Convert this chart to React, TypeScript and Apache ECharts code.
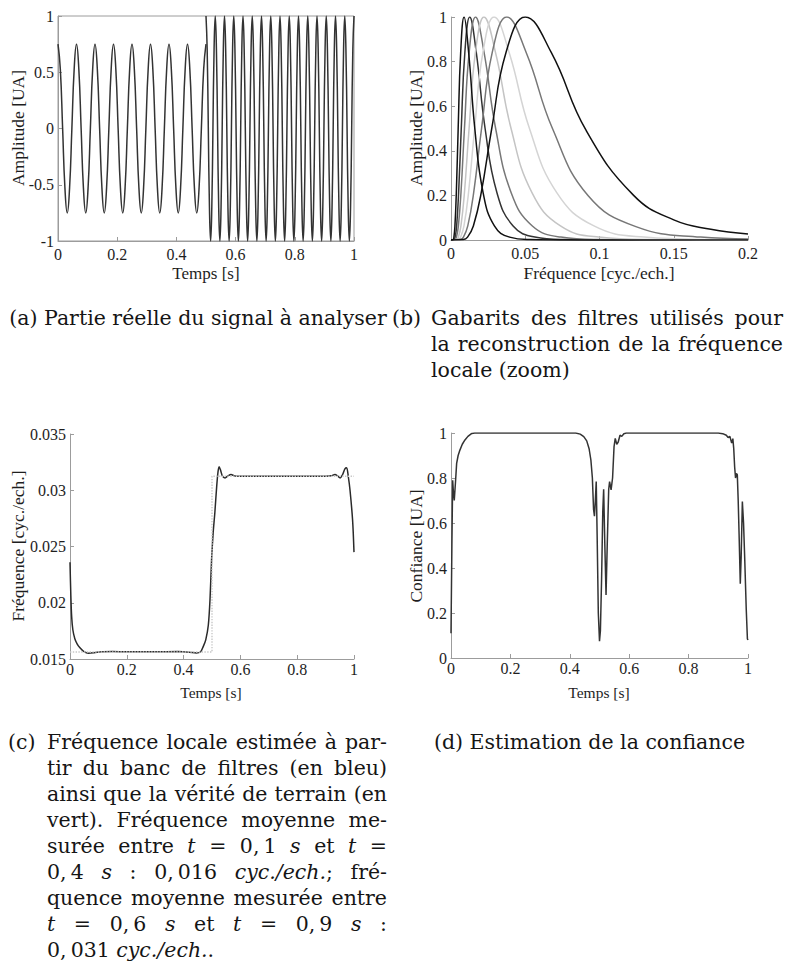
import React, { useEffect, useRef } from "react";
import * as echarts from "echarts";

// ---------- tick labels ----------
const timeTicks = [0, 0.2, 0.4, 0.6, 0.8, 1];
const amplitudeTicks = [-1, -0.5, 0, 0.5, 1];
const freqTicks = [0, 0.05, 0.1, 0.15, 0.2];
const gainTicks = [0, 0.2, 0.4, 0.6, 0.8, 1];
const localFreqTicks = [0.015, 0.02, 0.025, 0.03, 0.035];
const confTicks = [0, 0.2, 0.4, 0.6, 0.8, 1];

// ---------- (a) real part of the signal ----------
const signalLowStart = 0;
const signalLowStep = 0.0078125;
const signalLow = [
  0.75, 0.53, 0, -0.53, -0.75, -0.53, 0, 0.53,
  0.75, 0.53, 0, -0.53, -0.75, -0.53, 0, 0.53,
  0.75, 0.53, 0, -0.53, -0.75, -0.53, 0, 0.53,
  0.75, 0.53, 0, -0.53, -0.75, -0.53, 0, 0.53,
  0.75, 0.53, 0, -0.53, -0.75, -0.53, 0, 0.53,
  0.75, 0.53, 0, -0.53, -0.75, -0.53, 0, 0.53,
  0.75, 0.53, 0, -0.53, -0.75, -0.53, 0, 0.53,
  0.75, 0.53, 0, -0.53, -0.75, -0.53, 0, 0.53,
  0.75,
];
const signalHighStart = 0.5;
const signalHighStep = 0.00390625;
const signalHigh = [
  1, 0.71, 0, -0.71, -1, -0.71, 0, 0.71,
  1, 0.71, 0, -0.71, -1, -0.71, 0, 0.71,
  1, 0.71, 0, -0.71, -1, -0.71, 0, 0.71,
  1, 0.71, 0, -0.71, -1, -0.71, 0, 0.71,
  1, 0.71, 0, -0.71, -1, -0.71, 0, 0.71,
  1, 0.71, 0, -0.71, -1, -0.71, 0, 0.71,
  1, 0.71, 0, -0.71, -1, -0.71, 0, 0.71,
  1, 0.71, 0, -0.71, -1, -0.71, 0, 0.71,
  1, 0.71, 0, -0.71, -1, -0.71, 0, 0.71,
  1, 0.71, 0, -0.71, -1, -0.71, 0, 0.71,
  1, 0.71, 0, -0.71, -1, -0.71, 0, 0.71,
  1, 0.71, 0, -0.71, -1, -0.71, 0, 0.71,
  1, 0.71, 0, -0.71, -1, -0.71, 0, 0.71,
  1, 0.71, 0, -0.71, -1, -0.71, 0, 0.71,
  1, 0.71, 0, -0.71, -1, -0.71, 0, 0.71,
  1, 0.71, 0, -0.71, -1, -0.71, 0, 0.71,
  1,
];

// ---------- (b) filter templates [frequency, gain] ----------
const filter1 = [[0, 0], [0.00145, 0.002], [0.00196, 0.013], [0.00265, 0.063], [0.00358, 0.211], [0.00483, 0.5], [0.00652, 0.841], [0.0088, 1], [0.01188, 0.841], [0.01603, 0.5], [0.02164, 0.211], [0.02922, 0.063], [0.03944, 0.013], [0.05324, 0.002], [0.07942, 0], [0.2, 0]];
const filter2 = [[0, 0], [0.00208, 0.002], [0.00281, 0.013], [0.0038, 0.063], [0.00512, 0.211], [0.00691, 0.5], [0.00933, 0.841], [0.0126, 1], [0.01701, 0.841], [0.02296, 0.5], [0.03099, 0.211], [0.04183, 0.063], [0.05647, 0.013], [0.07622, 0.002], [0.11372, 0], [0.2, 0]];
const filter3 = [[0, 0], [0.00273, 0.002], [0.00368, 0.013], [0.00497, 0.063], [0.00671, 0.211], [0.00906, 0.5], [0.01222, 0.841], [0.0165, 1], [0.02227, 0.841], [0.03006, 0.5], [0.04058, 0.211], [0.05478, 0.063], [0.07395, 0.013], [0.09982, 0.002], [0.14891, 0], [0.2, 0]];
const filter4 = [[0, 0], [0.00367, 0.002], [0.00495, 0.013], [0.00669, 0.063], [0.00903, 0.211], [0.01218, 0.5], [0.01645, 0.841], [0.0222, 1], [0.02997, 0.841], [0.04045, 0.5], [0.0546, 0.211], [0.07371, 0.063], [0.09949, 0.013], [0.1343, 0.002], [0.2, 0]];
const filter5 = [[0, 0], [0.00479, 0.002], [0.00647, 0.013], [0.00873, 0.063], [0.01179, 0.211], [0.01592, 0.5], [0.02148, 0.841], [0.029, 1], [0.03915, 0.841], [0.05284, 0.5], [0.07133, 0.211], [0.09628, 0.063], [0.12997, 0.013], [0.17544, 0.002], [0.2, 0.001]];
const filter6 = [[0, 0], [0.0062, 0.002], [0.00837, 0.013], [0.0113, 0.063], [0.01525, 0.211], [0.02058, 0.5], [0.02778, 0.841], [0.0375, 1], [0.05062, 0.841], [0.06833, 0.5], [0.09224, 0.2], [0.1245, 0.06], [0.16806, 0.013], [0.2, 0.005]];
const filter7 = [[0, 0], [0.00827, 0.002], [0.01116, 0.013], [0.01506, 0.063], [0.02033, 0.211], [0.02744, 0.5], [0.03704, 0.841], [0.05, 1], [0.0675, 0.841], [0.0911, 0.49], [0.12298, 0.2], [0.15, 0.09], [0.175, 0.048], [0.2, 0.027]];
const filterCurves = [filter1, filter2, filter3, filter4, filter5, filter6, filter7];
const filterColors = ["#111111", "#333333", "#777777", "#c4c4c4", "#d4d4d4", "#777777", "#111111"];

// ---------- (c) local frequency [t, cyc./ech.] ----------
const estimatedFreq = [
  [0, 0.0236], [0.003, 0.0206], [0.006, 0.0187], [0.01, 0.0176], [0.017, 0.0168], [0.025, 0.01635],
  [0.035, 0.016], [0.048, 0.01568], [0.065, 0.01552], [0.085, 0.01556], [0.11, 0.01564], [0.15, 0.01566],
  [0.2, 0.01564], [0.3, 0.01564], [0.38, 0.01566], [0.42, 0.01561], [0.445, 0.01554], [0.46, 0.01565],
  [0.469, 0.0161], [0.478, 0.0167], [0.487, 0.018], [0.493, 0.0203], [0.4985, 0.0238], [0.504, 0.0262],
  [0.51, 0.028], [0.5164, 0.0303], [0.521, 0.0316], [0.525, 0.0321], [0.53, 0.0318], [0.537, 0.03125],
  [0.546, 0.0311], [0.555, 0.03125], [0.567, 0.0314], [0.58, 0.03127], [0.6, 0.03125], [0.7, 0.03125],
  [0.8, 0.03125], [0.9, 0.03125], [0.92, 0.03128], [0.933, 0.0314], [0.943, 0.03125], [0.951, 0.0311],
  [0.96, 0.0314], [0.968, 0.0319], [0.974, 0.0320], [0.98, 0.0312], [0.986, 0.0300], [0.995, 0.02735],
  [1, 0.0245],
];
const trueFreq = [[0, 0.015625], [0.5, 0.015625], [0.5, 0.03125], [1, 0.03125]];

// ---------- (d) confidence [t, UA] ----------
const confidence = [
  [0, 0.11], [0.003, 0.5], [0.0056, 0.79], [0.008, 0.74], [0.011, 0.7], [0.015, 0.78], [0.019, 0.865],
  [0.024, 0.9], [0.03, 0.924], [0.038, 0.95], [0.047, 0.969], [0.057, 0.985], [0.07, 0.998], [0.08, 1],
  [0.42, 1], [0.435, 0.995], [0.447, 0.984], [0.457, 0.965], [0.465, 0.93], [0.471, 0.88], [0.476, 0.8],
  [0.48, 0.66], [0.483, 0.63], [0.486, 0.7], [0.489, 0.784], [0.492, 0.55], [0.496, 0.2], [0.5, 0.075],
  [0.503, 0.12], [0.507, 0.35], [0.511, 0.65], [0.514, 0.75], [0.518, 0.5], [0.522, 0.28], [0.526, 0.5],
  [0.531, 0.75], [0.534, 0.784], [0.539, 0.747], [0.544, 0.8], [0.549, 0.94], [0.553, 0.976], [0.558, 0.95],
  [0.563, 0.96], [0.569, 0.99], [0.575, 0.985], [0.582, 0.997], [0.59, 1], [0.9, 1], [0.915, 0.997],
  [0.927, 0.99], [0.933, 0.98], [0.939, 0.985], [0.945, 0.955], [0.949, 0.975], [0.952, 0.93], [0.955, 0.85],
  [0.958, 0.8], [0.961, 0.82], [0.964, 0.815], [0.967, 0.7], [0.97, 0.55], [0.974, 0.33], [0.977, 0.45],
  [0.981, 0.695], [0.985, 0.6], [0.989, 0.44], [0.994, 0.22], [0.998, 0.085], [1, 0.08],
];

// ---------- captions ----------
const captionA = "(a) Partie réelle du signal à analyser";
const captionBLabel = "(b)";
const captionB = ["Gabarits des filtres utilisés pour", "la reconstruction de la fréquence", "locale (zoom)"];
const captionCLabel = "(c)";
const captionC = [
  "Fréquence locale estimée à par-",
  "tir du banc de filtres (en bleu)",
  "ainsi que la vérité de terrain (en",
  "vert). Fréquence moyenne me-",
  "surée entre _t_ = 0,\u20091 _s_ et _t_ =",
  "0,\u20094 _s_ : 0,\u2009016 _cyc./ech._; fré-",
  "quence moyenne mesurée entre",
  "_t_ = 0,\u20096 _s_ et _t_ = 0,\u20099 _s_ :",
  "0,\u2009031 _cyc./ech._.",
];
const captionD = "(d) Estimation de la confiance";

// ---------- styles ----------
const AXIS_COLOR = "#9c9c9c";
const TEXT_COLOR = "#1e1e1e";
const TICK_FONT = "Liberation Serif";
const CAP_FONT = "DejaVu Serif";
const CAP_SIZE = 20.5;

function axisBase(ticks: number[], gridIndex: number, margin: number) {
  const interval = +(ticks[1] - ticks[0]).toFixed(6);
  return {
    type: "value",
    gridIndex,
    min: ticks[0],
    max: ticks[ticks.length - 1],
    interval,
    axisLine: { show: true, onZero: false, lineStyle: { color: AXIS_COLOR, width: 1 } },
    axisTick: { show: true, inside: true, length: 4, lineStyle: { color: AXIS_COLOR, width: 1 } },
    splitLine: { show: false },
    axisLabel: { fontFamily: TICK_FONT, fontSize: 16, color: TEXT_COLOR, margin },
  };
}

function axisTitle(text: string, x: number, y: number, size: number, vertical: boolean) {
  return {
    type: "text",
    x,
    y,
    rotation: vertical ? Math.PI / 2 : 0,
    silent: true,
    style: {
      text,
      fontFamily: TICK_FONT,
      fontSize: size,
      fill: TEXT_COLOR,
      align: "center",
      verticalAlign: "middle",
    },
  };
}

type Part = { s: string; it: boolean };

function buildCaptions(): any[] {
  const canvas = document.createElement("canvas");
  const ctx = canvas.getContext("2d")!;
  const measure = (s: string, it: boolean) => {
    ctx.font = `${it ? "italic " : ""}${CAP_SIZE}px "${CAP_FONT}"`;
    return ctx.measureText(s).width;
  };
  const out: any[] = [];
  const textEl = (x: number, y: number, s: string, it: boolean) => {
    const style: any = {
      text: s,
      fontFamily: CAP_FONT,
      fontSize: CAP_SIZE,
      fill: "#151515",
      align: "left",
      verticalAlign: "middle",
    };
    if (it) style.fontStyle = "italic";
    return { type: "text", x, y, silent: true, style };
  };
  const tokenize = (line: string): Part[][] =>
    line.split(" ").map((tok) =>
      tok
        .split("_")
        .map((s, i) => ({ s, it: i % 2 === 1 }))
        .filter((p) => p.s.length > 0)
    );
  const layout = (line: string, x0: number, x1: number, y: number, mode: "justify" | "left" | "center") => {
    const tokens = tokenize(line);
    const widths = tokens.map((parts) => parts.reduce((a, p) => a + measure(p.s, p.it), 0));
    const total = widths.reduce((a, b) => a + b, 0);
    const space = measure(" ", false);
    let gap = space;
    let x = x0;
    if (mode === "justify" && tokens.length > 1) gap = (x1 - x0 - total) / (tokens.length - 1);
    if (mode === "center") x = (x0 + x1) / 2 - (total + space * (tokens.length - 1)) / 2;
    tokens.forEach((parts, k) => {
      let px = x;
      parts.forEach((p) => {
        out.push(textEl(px, y, p.s, p.it));
        px += measure(p.s, p.it);
      });
      x += widths[k] + gap;
    });
  };

  layout(captionA, 6, 390, 318, "center");

  out.push(textEl(392, 318, captionBLabel, false));
  captionB.forEach((line, i) =>
    layout(line, 431, 783, 318 + 26 * i, i === captionB.length - 1 ? "left" : "justify")
  );

  out.push(textEl(8, 742, captionCLabel, false));
  captionC.forEach((line, i) =>
    layout(line, 47, 387, 742 + 26 * i, i === captionC.length - 1 ? "left" : "justify")
  );

  layout(captionD, 393, 786, 742, "center");
  return out;
}

function buildOption(): any {
  const lowData = signalLow.map((v, i) => [signalLowStart + i * signalLowStep, v]);
  const highData = signalHigh.map((v, i) => [signalHighStart + i * signalHighStep, v]);

  const grids = [
    { left: 58, top: 16, width: 296, height: 225, show: true, borderColor: AXIS_COLOR, borderWidth: 1, backgroundColor: "transparent" },
    { left: 451, top: 17, width: 297, height: 223 },
    { left: 70, top: 434, width: 284, height: 225 },
    { left: 451, top: 433, width: 297, height: 225 },
  ];

  const xAxis = [
    axisBase(timeTicks, 0, 5),
    axisBase(freqTicks, 1, 5),
    axisBase(timeTicks, 2, 2),
    axisBase(timeTicks, 3, 2),
  ];
  const yAxis = [
    axisBase(amplitudeTicks, 0, 4),
    axisBase(gainTicks, 1, 4),
    axisBase(localFreqTicks, 2, 4),
    axisBase(confTicks, 3, 4),
  ];

  const lineBase = (data: any, xi: number, color: string, width: number, smooth: any) => ({
    type: "line",
    data,
    xAxisIndex: xi,
    yAxisIndex: xi,
    showSymbol: false,
    symbol: "none",
    smooth,
    lineStyle: { color, width },
    emphasis: { disabled: true },
  });

  const series: any[] = [
    lineBase(lowData, 0, "#333333", 1.5, 0.5),
    lineBase(highData, 0, "#333333", 1.5, 0.5),
    ...filterCurves.map((c, i) => ({ ...lineBase(c, 1, filterColors[i], 1.5, 0.45), z: i === 0 || i === 6 ? 4 : 3 })),
    lineBase(estimatedFreq, 2, "#2a2a2a", 1.5, 0.3),
    { ...lineBase(trueFreq, 2, "#c8c8c8", 1.4, false), lineStyle: { color: "#c8c8c8", width: 1.4, type: "dotted" }, z: 5 },
    lineBase(confidence, 3, "#333333", 1.5, false),
  ];

  const graphics = [
    axisTitle("Temps [s]", 206, 273, 17, false),
    axisTitle("Amplitude [UA]", 18, 128, 17.5, true),
    axisTitle("Fréquence [cyc./ech.]", 599, 273, 17.5, false),
    axisTitle("Amplitude [UA]", 416, 128, 17.5, true),
    axisTitle("Temps [s]", 211, 692, 15.5, false),
    axisTitle("Fréquence [cyc./ech.]", 18, 546, 17.5, true),
    axisTitle("Temps [s]", 599, 692, 15.5, false),
    axisTitle("Confiance [UA]", 416, 546, 17.5, true),
    ...buildCaptions(),
  ];

  return {
    animation: false,
    backgroundColor: "#ffffff",
    grid: grids,
    xAxis,
    yAxis,
    series,
    graphic: { elements: graphics },
  };
}

export default function App() {
  const ref = useRef<HTMLDivElement>(null);
  useEffect(() => {
    if (!ref.current) return;
    const chart = echarts.init(ref.current, null, { renderer: "svg" });
    chart.setOption(buildOption());
    return () => chart.dispose();
  }, []);
  return (
    <div
      ref={ref}
      style={{ position: "absolute", left: 0, top: 0, width: 786, height: 974, background: "#fff" }}
    />
  );
}
